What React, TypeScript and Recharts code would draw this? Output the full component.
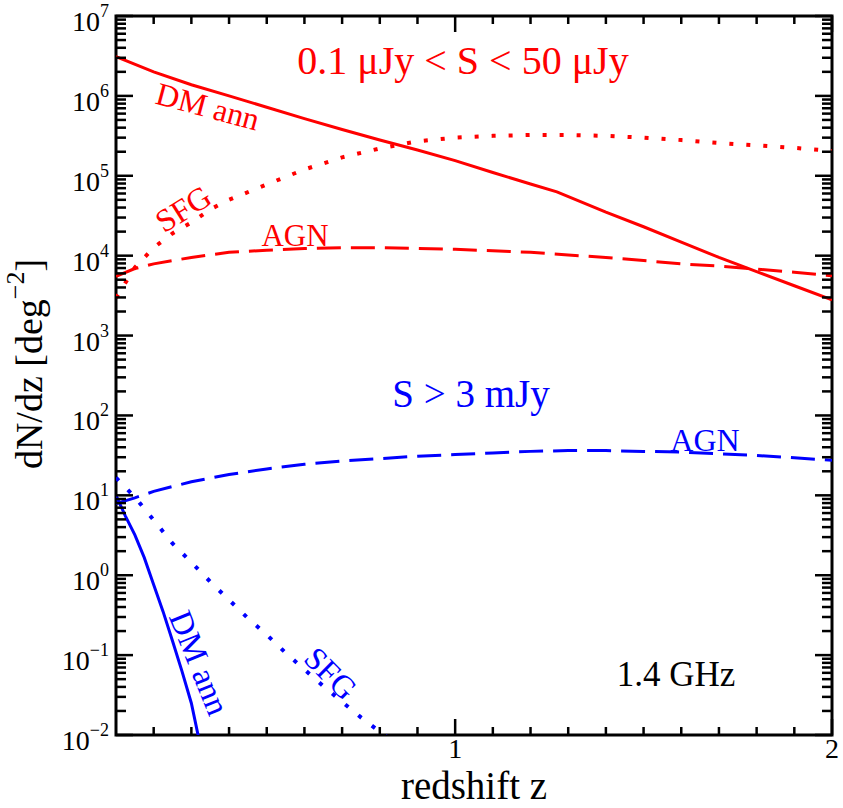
import { LineChart, Line, XAxis, YAxis, ReferenceArea } from "recharts";

// redshift grids
const zMain = [0.1, 0.2, 0.3, 0.4, 0.5, 0.6, 0.7, 0.8, 0.9, 1.0, 1.1, 1.2, 1.27, 1.4, 1.5, 1.6, 1.7, 1.8, 1.9, 2.0];
const zWide = [0.1, 0.15, 0.2, 0.25, 0.3, 0.35, 0.4, 0.5, 0.6, 0.7, 0.8, 0.9, 1.0, 1.1, 1.2, 1.3, 1.4, 1.5, 1.6, 1.7, 1.8, 1.9, 2.0];
const zAgn = [0.1, 0.15, 0.2, 0.3, 0.4, 0.5, 0.6, 0.7, 0.8, 0.9, 1.0, 1.1, 1.2, 1.3, 1.4, 1.5, 1.6, 1.7, 1.8, 1.9, 2.0];
const zBlueDm = [0.1, 0.125, 0.15, 0.175, 0.2, 0.225, 0.25, 0.275, 0.3, 0.32];
const zBlueSfg = [0.1, 0.15, 0.2, 0.25, 0.3, 0.35, 0.4, 0.45, 0.5, 0.55, 0.6, 0.65, 0.7, 0.75, 0.8, 0.85];

// 0.1 uJy < S < 50 uJy
const redDm = [3.09e6, 2.0e6, 1.38e6, 1.0e6, 7.2e5, 5.2e5, 3.8e5, 2.8e5, 2.1e5, 1.55e5, 1.1e5, 7.9e4, 6.3e4, 3.5e4, 2.3e4, 1.48e4, 9.5e3, 6.3e3, 4.2e3, 2.8e3];
const redSfg = [2.95e3, 7.1e3, 1.26e4, 1.9e4, 2.6e4, 3.8e4, 5.0e4, 7.8e4, 1.2e5, 1.7e5, 2.2e5, 2.7e5, 3.0e5, 3.16e5, 3.24e5, 3.24e5, 3.16e5, 3.0e5, 2.8e5, 2.57e5, 2.4e5, 2.24e5, 2.04e5];
const redAgn = [5.5e3, 6.9e3, 7.9e3, 9.5e3, 1.1e4, 1.17e4, 1.23e4, 1.26e4, 1.26e4, 1.23e4, 1.2e4, 1.15e4, 1.1e4, 1.02e4, 9.5e3, 8.7e3, 7.9e3, 7.4e3, 6.8e3, 6.2e3, 5.6e3];

// S > 3 mJy
const blueDm = [10, 5.5, 3.2, 1.66, 0.76, 0.35, 0.15, 0.063, 0.025, 0.0089];
const blueSfg = [16.6, 9.5, 4.9, 2.5, 1.45, 0.83, 0.49, 0.29, 0.18, 0.107, 0.066, 0.041, 0.026, 0.0166, 0.011, 0.0074];
const blueAgn = [7.9, 9.3, 11.2, 14.8, 18.2, 21.4, 24.5, 26.9, 28.8, 30.9, 32.4, 33.9, 35.5, 36.3, 36.3, 35.5, 34.7, 33.1, 31.6, 29.5, 27.5];

// axis ticks
const xTicks = [0.2, 0.3, 0.4, 0.5, 0.6, 0.7, 0.8, 0.9, 1, 1.1, 1.2, 1.3, 1.4, 1.5, 1.6, 1.7, 1.8, 1.9, 2];
const xMajor = [1, 2];
const yDecades = [0.01, 0.1, 1, 10, 100, 1e3, 1e4, 1e5, 1e6, 1e7];
const yMinorSteps = [2, 3, 4, 5, 6, 7, 8, 9];
const yTicks = [...yDecades, ...yDecades.slice(0, -1).flatMap((d) => yMinorSteps.map((m) => d * m))];

const pairs = (zs: number[], vs: number[]) => zs.map((z, i) => ({ z, v: vs[i] }));

const W = 843;
const H = 808;
const MARGIN = { top: 16, right: 11, bottom: 0, left: 0 };
const Y_AXIS_W = 116;
const X_AXIS_H = 73;
const PLOT_W = W - MARGIN.left - MARGIN.right - Y_AXIS_W;
const PLOT_H = H - MARGIN.top - MARGIN.bottom - X_AXIS_H;

const FONT = '"Liberation Serif", "Times New Roman", serif';
const RED = "#ff0000";
const BLUE = "#0000ff";
const DASH = "24 10";
const DOT = "4 13";

function YTick(props: any) {
  const { x, y, payload } = props;
  const lg = Math.log10(payload.value);
  const major = Math.abs(lg - Math.round(lg)) < 1e-6;
  const len = major ? 17 : 10;
  const exp = Math.round(lg);
  return (
    <g>
      <line x1={x} x2={x + len} y1={y} y2={y} stroke="#000" strokeWidth={2.5} />
      <line x1={x + PLOT_W} x2={x + PLOT_W - len} y1={y} y2={y} stroke="#000" strokeWidth={2.5} />
      {major && (
        <text x={x - 7} y={y + 15} textAnchor="end" fontFamily={FONT} fill="#000">
          <tspan fontSize={28}>10</tspan>
          <tspan fontSize={18} dy={-14}>{exp < 0 ? `\u2212${-exp}` : exp}</tspan>
        </text>
      )}
    </g>
  );
}

function XTick(props: any) {
  const { x, y, payload } = props;
  const major = xMajor.includes(payload.value);
  const len = major ? 16 : 8;
  return (
    <g>
      <line x1={x} x2={x} y1={y} y2={y - len} stroke="#000" strokeWidth={2.5} />
      <line x1={x} x2={x} y1={y - PLOT_H} y2={y - PLOT_H + len} stroke="#000" strokeWidth={2.5} />
      {major && (
        <text x={x} y={y + 23} textAnchor="middle" fontFamily={FONT} fontSize={28} fill="#000">
          {payload.value}
        </text>
      )}
    </g>
  );
}

export default function App() {
  return (
    <div style={{ position: "absolute", left: 0, top: 0, width: W, height: H, background: "#fff" }}>
      <LineChart width={W} height={H} margin={MARGIN}>
        <XAxis
          dataKey="z"
          type="number"
          domain={[0.1, 2]}
          allowDataOverflow
          ticks={xTicks}
          interval={0}
          tickSize={0}
          tickMargin={0}
          tickLine={false}
          axisLine={false}
          height={X_AXIS_H}
          tick={XTick}
        />
        <YAxis
          scale="log"
          type="number"
          domain={[0.01, 1e7]}
          allowDataOverflow
          ticks={yTicks}
          interval={0}
          tickSize={0}
          tickMargin={0}
          tickLine={false}
          axisLine={false}
          width={Y_AXIS_W}
          tick={YTick}
        />
        <Line data={pairs(zMain, redDm)} dataKey="v" type="linear" stroke={RED} strokeWidth={3} dot={false} isAnimationActive={false} />
        <Line data={pairs(zWide, redSfg)} dataKey="v" type="linear" stroke={RED} strokeWidth={4} strokeDasharray={DOT} dot={false} isAnimationActive={false} />
        <Line data={pairs(zAgn, redAgn)} dataKey="v" type="linear" stroke={RED} strokeWidth={3} strokeDasharray={DASH} dot={false} isAnimationActive={false} />
        <Line data={pairs(zBlueDm, blueDm)} dataKey="v" type="linear" stroke={BLUE} strokeWidth={3} dot={false} isAnimationActive={false} />
        <Line data={pairs(zBlueSfg, blueSfg)} dataKey="v" type="linear" stroke={BLUE} strokeWidth={4} strokeDasharray={DOT} dot={false} isAnimationActive={false} />
        <Line data={pairs(zAgn, blueAgn)} dataKey="v" type="linear" stroke={BLUE} strokeWidth={3} strokeDasharray={DASH} dot={false} isAnimationActive={false} />
        <ReferenceArea x1={0.1} x2={2} y1={0.01} y2={1e7} fill="none" stroke="#000" strokeWidth={3} />

        <g fontFamily={FONT}>
          <text x={463} y={74} textAnchor="middle" fontSize={40} fill={RED}>0.1 μJy &lt; S &lt; 50 μJy</text>
          <text x={205} y={117} textAnchor="middle" fontSize={32} fill={RED} transform="rotate(15 205 117)">DM ann</text>
          <text x={189} y={218} textAnchor="middle" fontSize={32} fill={RED} transform="rotate(-32 189 218)">SFG</text>
          <text x={295} y={246} textAnchor="middle" fontSize={31} fill={RED}>AGN</text>
          <text x={471} y={407} textAnchor="middle" fontSize={39} fill={BLUE}>S &gt; 3 mJy</text>
          <text x={705} y={451} textAnchor="middle" fontSize={32} fill={BLUE}>AGN</text>
          <text x={189} y={667} textAnchor="middle" fontSize={33} fill={BLUE} transform="rotate(68 189 667)">DM ann</text>
          <text x={323} y={681} textAnchor="middle" fontSize={32} fill={BLUE} transform="rotate(45 323 681)">SFG</text>
          <text x={676} y={686} textAnchor="middle" fontSize={35} fill="#000">1.4 GHz</text>
          <text x={474} y={799} textAnchor="middle" fontSize={39} fill="#000">redshift z</text>
          <text x={42} y={364} textAnchor="middle" fontSize={38} fill="#000" transform="rotate(-90 42 364)">
            dN/dz [deg<tspan fontSize={26} dy={-18}>{"\u22122"}</tspan><tspan dy={18}>]</tspan>
          </text>
        </g>
      </LineChart>
    </div>
  );
}
